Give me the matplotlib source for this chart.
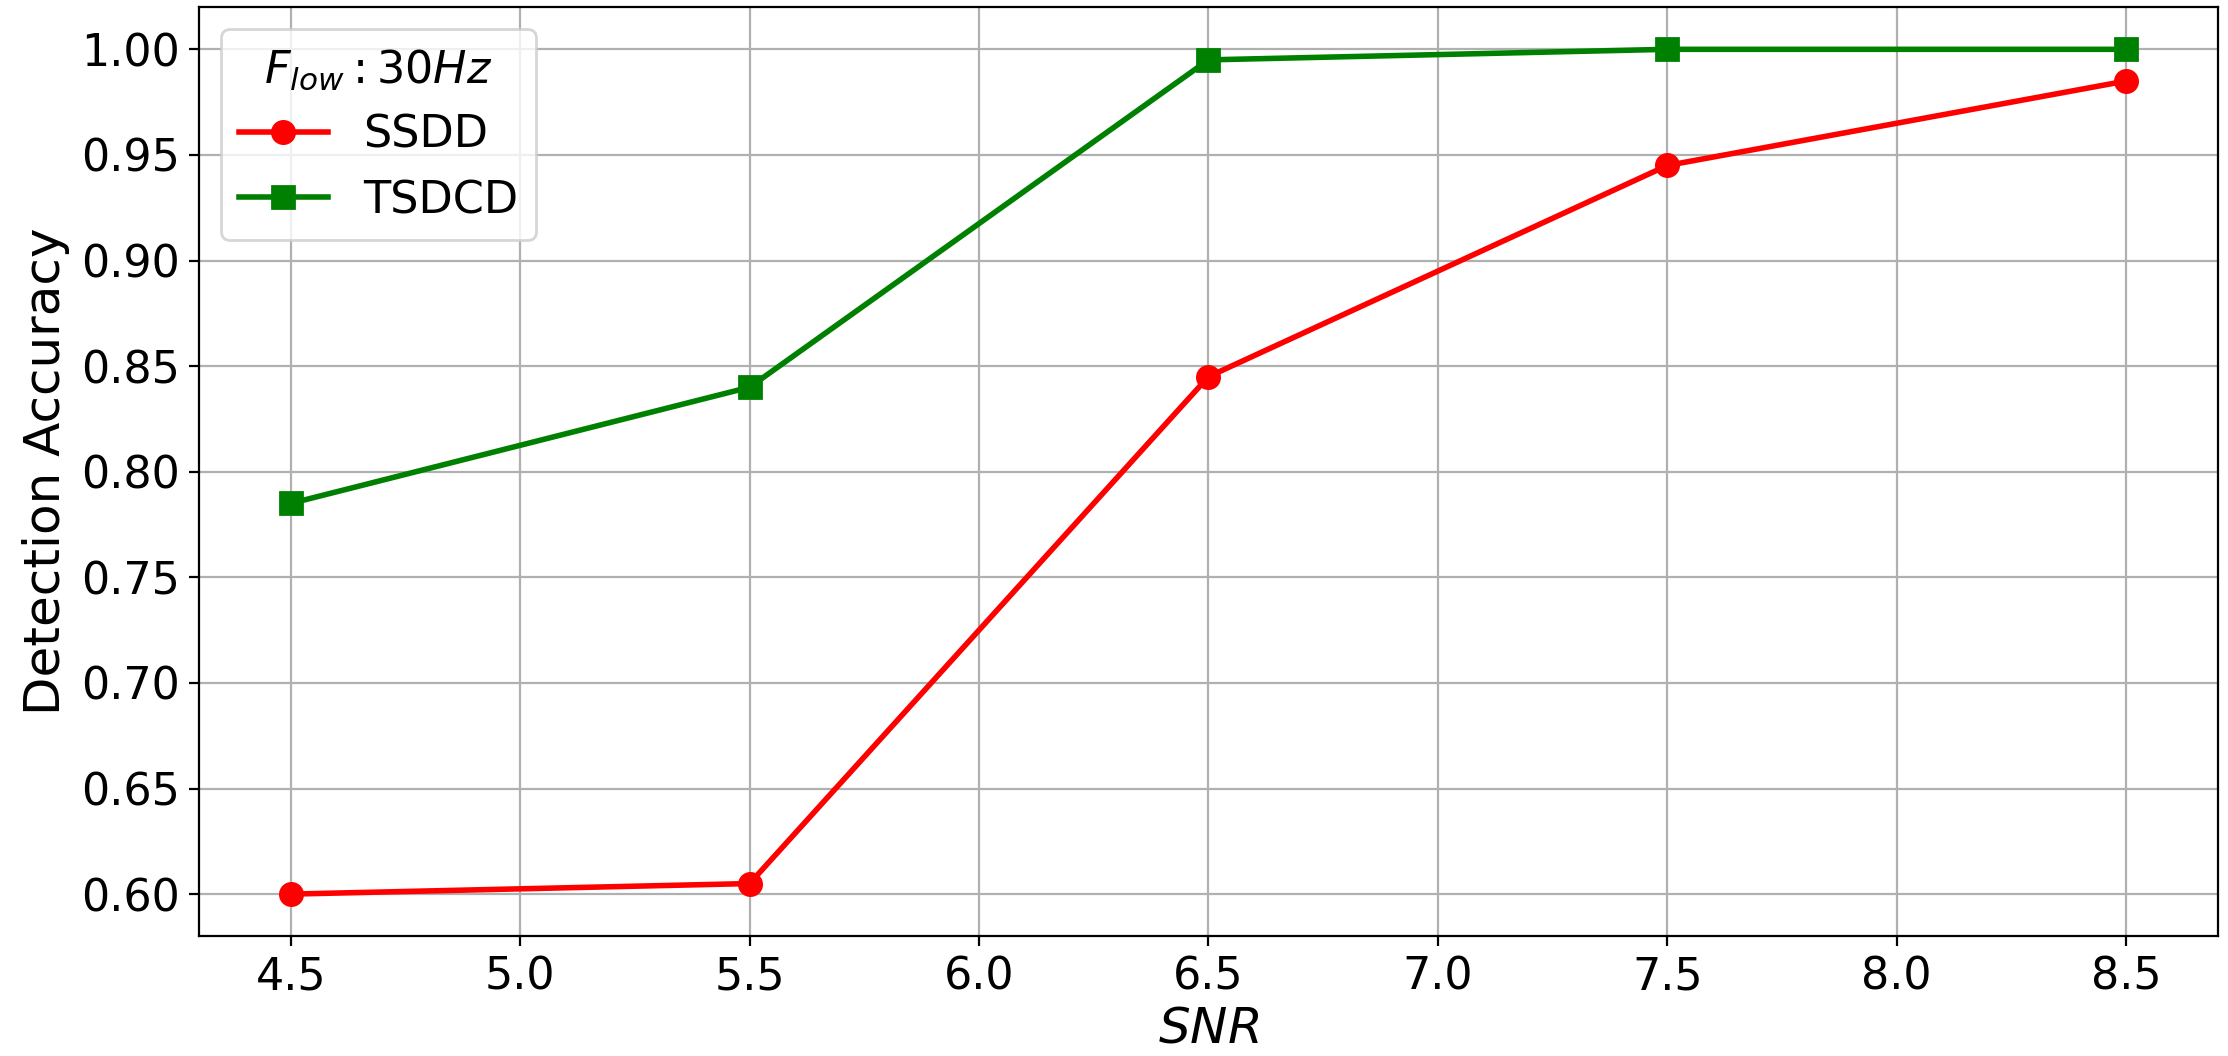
import matplotlib
matplotlib.use("Agg")
import matplotlib.pyplot as plt

# SNR values and detection accuracy
snr = [4.5, 5.5, 6.5, 7.5, 8.5]
ssdd = [0.600, 0.605, 0.845, 0.945, 0.985]
tsdcd = [0.785, 0.840, 0.995, 1.000, 1.000]

plt.rcParams['font.size'] = 16

fig, ax = plt.subplots(figsize=(11.14, 5.28), dpi=200)
ax.plot(snr, ssdd, color='red', marker='o', linewidth=2, markersize=8, label='SSDD')
ax.plot(snr, tsdcd, color='green', marker='s', linewidth=2, markersize=8, label='TSDCD')

ax.set_xlabel('$SNR$', fontsize=18, labelpad=2)
ax.set_ylabel('Detection Accuracy', fontsize=18)
ax.grid(True)
ax.legend(title='$F_{low}:30Hz$', title_fontsize=16, loc='upper left')

fig.subplots_adjust(left=0.0893, right=0.9955, top=0.9933, bottom=0.1133)
fig.savefig('out.png', dpi=200)
